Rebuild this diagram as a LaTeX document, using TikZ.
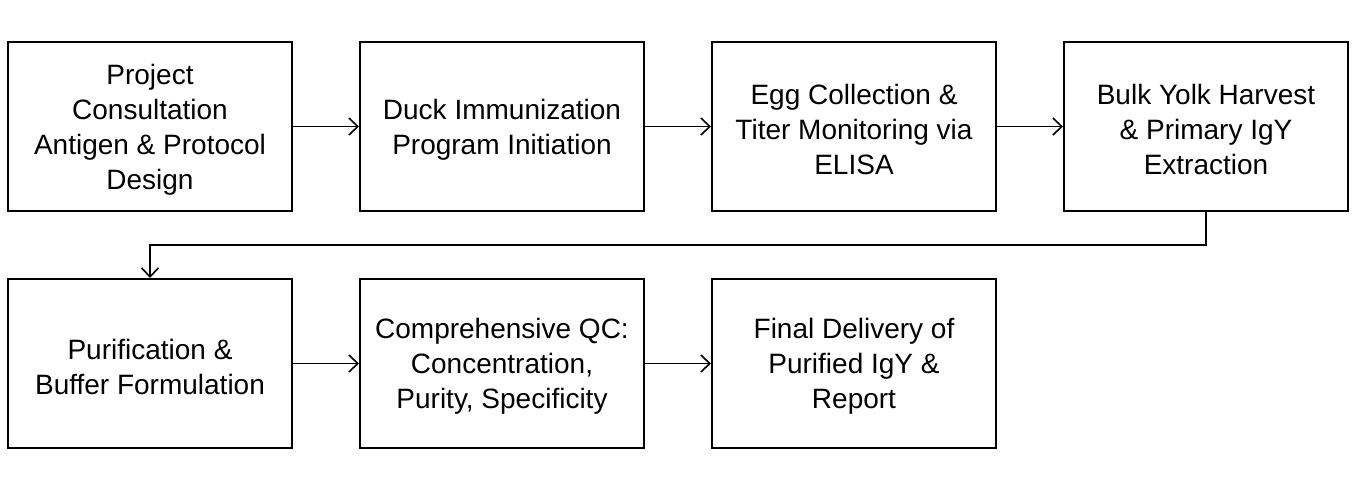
\documentclass[tikz,border=0pt]{standalone}
\usepackage{fontspec}
\setmainfont{Liberation Sans}
\usetikzlibrary{arrows.meta}
\begin{document}
\begin{tikzpicture}[x=1pt,y=-1pt,
  stepbox/.style={draw, line width=2pt, minimum width=284pt, minimum height=169pt, inner sep=0pt},
  steptext/.style={align=center, inner sep=0pt, yshift=-3pt, font=\fontsize{28}{35}\selectfont},
  conn/.style={line width=1.3pt, -{Straight Barb[length=9pt,width=17pt,line width=1.6pt]}}]
\useasboundingbox (0,0) rectangle (1362,500);
\node[stepbox] (a) at (150,126.5) {};
\node[stepbox] (b) at (502,126.5) {};
\node[stepbox] (c) at (854,126.5) {};
\node[stepbox] (d) at (1206,126.5) {};
\node[stepbox] (e) at (150,363.5) {};
\node[stepbox] (f) at (502,363.5) {};
\node[stepbox] (g) at (854,363.5) {};
\node[steptext] (ta) at (a) {Project\\Consultation\\Antigen \& Protocol\\Design};
\node[steptext] (tb) at (b) {Duck Immunization\\Program Initiation};
\node[steptext] (tc) at (c) {Egg Collection \&\\Titer Monitoring via\\ELISA};
\node[steptext] (td) at (d) {Bulk Yolk Harvest\\\& Primary IgY\\Extraction};
\node[steptext] (te) at (e) {Purification \&\\Buffer Formulation};
\node[steptext] (tf) at (f) {Comprehensive QC:\\Concentration,\\Purity, Specificity};
\node[steptext] (tg) at (g) {Final Delivery of\\Purified IgY \&\\Report};
\draw[conn] (a) -- (b);
\draw[conn] (b) -- (c);
\draw[conn] (c) -- (d);
\draw[conn] (d.south) -- ++(0,33) -| (e.north);
\draw[conn] (e) -- (f);
\draw[conn] (f) -- (g);
\end{tikzpicture}
\end{document}
